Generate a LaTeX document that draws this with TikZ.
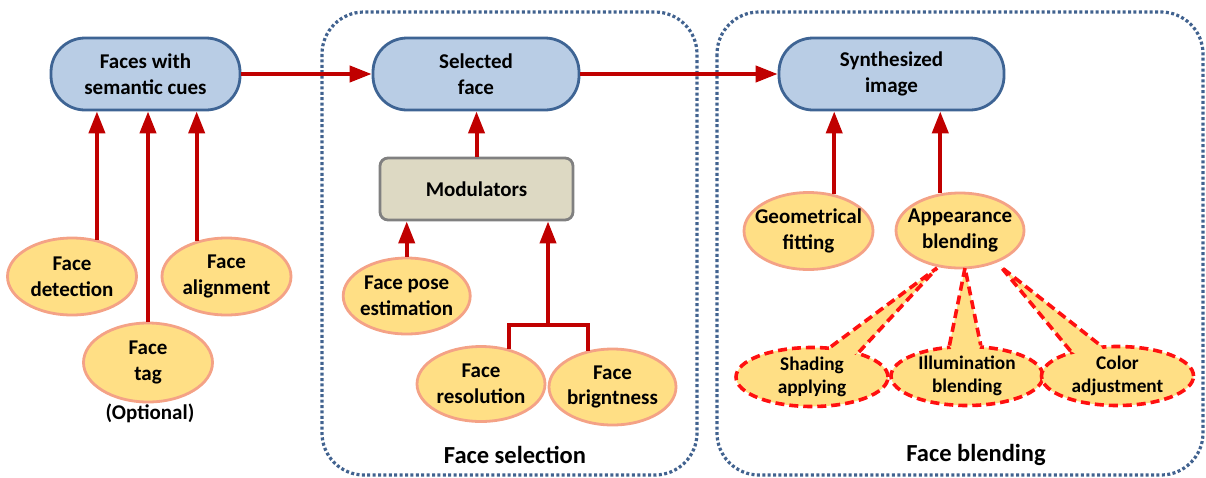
\documentclass[tikz,border=0pt]{standalone}
\usepackage{fontspec}
\setmainfont{Carlito}
\usetikzlibrary{shapes.geometric,arrows.meta,calc}
\definecolor{arrred}{HTML}{C00000}
\definecolor{dashred}{HTML}{FF1010}
\definecolor{pillfill}{HTML}{B9CDE5}
\definecolor{pillborder}{HTML}{3E6494}
\definecolor{ellfill}{HTML}{FFDF85}
\definecolor{ellborder}{HTML}{F4A286}
\definecolor{modfill}{HTML}{DDD9C3}
\definecolor{modborder}{HTML}{808080}
\definecolor{framecol}{HTML}{41628F}
\newcommand{\mainf}{\fontsize{21}{25.6}\selectfont\bfseries}
\newcommand{\smallf}{\fontsize{19.3}{23.5}\selectfont\bfseries}
\newcommand{\bigf}{\fontsize{24.5}{29}\selectfont\bfseries}
\tikzset{
  pill/.style={draw=pillborder, fill=pillfill, line width=2.8pt, rounded corners=34pt,
    minimum height=72pt, inner sep=0pt, align=center, font=\mainf},
  modbox/.style={draw=modborder, fill=modfill, line width=2.8pt, rounded corners=8pt,
    minimum width=193pt, minimum height=62pt, inner sep=0pt, align=center, font=\mainf},
  ell/.style={ellipse, draw=ellborder, fill=ellfill, line width=2.8pt,
    minimum width=129pt, minimum height=77pt, inner xsep=-12pt, inner ysep=0pt,
    align=center, font=\mainf},
  dell/.style={ellipse, draw=dashred, fill=ellfill, line width=3.6pt,
    dash pattern=on 9pt off 5pt, minimum width=152pt, minimum height=59pt,
    inner xsep=-12pt, inner ysep=-3pt, align=center, font=\smallf},
  dashline/.style={draw=dashred, line width=3.6pt, dash pattern=on 9pt off 5pt},
  arr/.style={draw=arrred, line width=4pt, -{Triangle[length=22pt,width=16pt]}},
  redline/.style={draw=arrred, line width=4pt, line join=miter},
  frame/.style={draw=framecol, line width=3.2pt, dash pattern=on 3pt off 2.4pt,
    rounded corners=42pt},
  lbl/.style={inner sep=0pt, font=\bigf}
}
\begin{document}
\begin{tikzpicture}[x=1pt,y=-1pt]
\useasboundingbox (0,0) rectangle (1206,477);
% frames
\draw[frame] (322,12) rectangle (697,475);
\draw[frame] (717,12) rectangle (1203,475);
\node[lbl] (lsel) at (515,455) {Face selection};
\node[lbl] (lbl2) at (976,455) {Face blending};

% top pills
\node[pill, minimum width=189pt] (fwsc) at (145.5,74) {Faces with\\semantic cues};
\node[pill, minimum width=206pt] (sel) at (476,74) {Selected\\face};
\node[pill, minimum width=225pt] (syn) at (891.5,74) {Synthesized\\image};

% left inputs
\node[ell] (det) at (72,276.5) {Face\\detection};
\node[ell] (ali) at (226.5,276.5) {Face\\alignment};
\node[ell, minimum height=79pt] (tag) at (148,362.5) {Face\\tag};
\node[inner sep=0pt, font=\mainf] (opt) at (150,413) {(Optional)};

% selection
\node[modbox] (mod) at (476.5,189) {Modulators};
\node[ell, minimum width=127pt, minimum height=76pt] (pose) at (406.7,296) {Face pose\\estimation};
\node[ell, minimum width=128pt, minimum height=75pt] (res) at (481,384) {Face\\resolution};
\node[ell, minimum width=127pt, minimum height=76pt] (bri) at (612.5,387) {Face\\brigntness};

% blending
\node[ell] (geo) at (808.5,231) {Geometrical\\fitting};
\node[ell, minimum width=128pt, minimum height=75pt] (app) at (960,230.5) {Appearance\\blending};

% arrows
\draw[arr] (fwsc.east) -- (sel.west);
\draw[arr] (sel.east) -- (syn.west);
\draw[arr] (det.56) -- (det.56 |- fwsc.south);
\draw[arr] (tag.north) -- (tag.north |- fwsc.south);
\draw[arr] (ali.130) -- (ali.130 |- fwsc.south);
\draw[arr] (mod.north) -- (mod.north |- sel.south);
\draw[arr] (pose.north) -- (pose.north |- mod.south);
\coordinate (j) at (548,325);
\draw[redline] (res.51) |- (j) -| (bri.124);
\draw[arr] (j) -- (j |- mod.south);
\draw[arr] (geo.55) -- (geo.55 |- syn.south);
\draw[arr] (app.118) -- (app.118 |- syn.south);

% callouts
\node[dell] (sha) at (812,377) {Shading\\applying};
\coordinate (t1) at (937,268);
\fill[ellfill] (t1) -- (sha.58) -- ($(sha.58)!7pt!(sha.center)$) -- ($(sha.28)!7pt!(sha.center)$) -- (sha.28) -- cycle;
\draw[dashline] (sha.58) -- (t1) -- (sha.28);

\node[dell] (ill) at (967,376) {Illumination\\blending};
\coordinate (t2) at (965,268);
\fill[ellfill] (t2) -- (ill.120) -- ($(ill.120)!7pt!(ill.center)$) -- ($(ill.66)!7pt!(ill.center)$) -- (ill.66) -- cycle;
\draw[dashline] (ill.120) -- (t2) -- (ill.66);

\node[dell] (col) at (1117.5,376) {Color\\adjustment};
\coordinate (t3) at (1001,267);
\fill[ellfill] (t3) -- (col.152) -- ($(col.152)!7pt!(col.center)$) -- ($(col.119)!7pt!(col.center)$) -- (col.119) -- cycle;
\draw[dashline] (col.152) -- (t3) -- (col.119);
\end{tikzpicture}
\end{document}
